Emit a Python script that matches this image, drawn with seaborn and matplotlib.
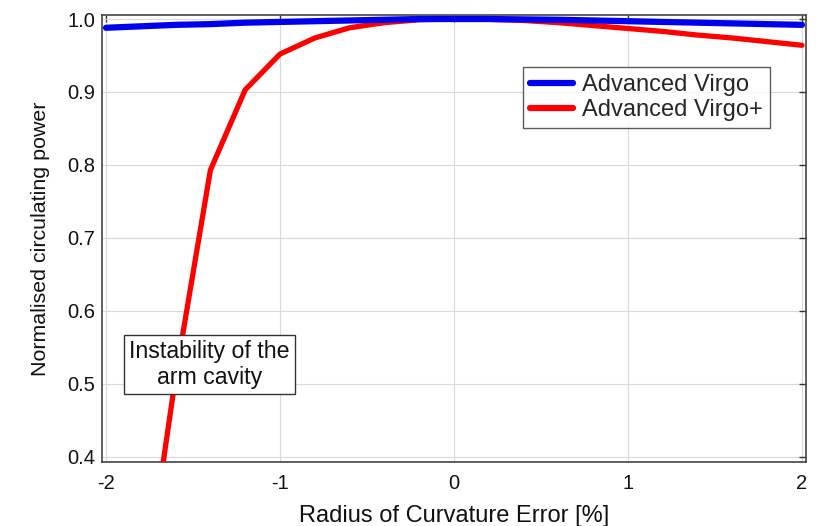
import numpy as np
import pandas as pd
import matplotlib
matplotlib.use("Agg")
import matplotlib.pyplot as plt
import seaborn as sns
from matplotlib.lines import Line2D

# Data
x_vals = [-2.0, -1.8, -1.6, -1.4, -1.2, -1.0, -0.8, -0.6, -0.4, -0.2, 0.0,
          0.2, 0.4, 0.6, 0.8, 1.0, 1.2, 1.4, 1.6, 1.8, 2.0]
adv_virgo = [0.988, 0.990, 0.992, 0.993, 0.995, 0.996, 0.997, 0.998, 0.999, 1.000, 1.000,
             1.000, 0.9995, 0.999, 0.998, 0.997, 0.996, 0.995, 0.994, 0.993, 0.992]
adv_virgo_plus = [-0.10, 0.18, 0.51, 0.793, 0.903, 0.952, 0.974, 0.988, 0.995, 0.999, 1.000,
                  0.9995, 0.998, 0.995, 0.991, 0.987, 0.983, 0.978, 0.974, 0.969, 0.964]
series_names = ["Advanced Virgo", "Advanced Virgo+"]
x_ticks = [-2, -1, 0, 1, 2]
y_ticks = [0.4, 0.5, 0.6, 0.7, 0.8, 0.9, 1.0]

df = pd.DataFrame({
    "x": x_vals * 2,
    "y": adv_virgo + adv_virgo_plus,
    "series": [series_names[0]] * len(x_vals) + [series_names[1]] * len(x_vals),
})

sns.set_style("white")
plt.rcParams["font.family"] = ["Liberation Sans", "DejaVu Sans"]

fig = plt.figure(figsize=(8.23, 5.26), dpi=100)
ax = fig.add_axes([102 / 823, 1 - 462 / 526, 704 / 823, 447 / 526])

sns.lineplot(data=df, x="x", y="y", hue="series",
             palette={series_names[0]: "#0000ee", series_names[1]: "#ff0000"},
             ax=ax, legend=False, sort=False)
ax.lines[0].set_linewidth(4.5)
ax.lines[1].set_linewidth(3.8)
ax.lines[0].set_zorder(5)
ax.lines[1].set_zorder(4)

ax.set_xlim(-2.023, 2.023)
ax.set_ylim(0.393, 1.0055)
ax.set_xticks(x_ticks)
ax.set_xticklabels([str(t) for t in x_ticks])
ax.set_yticks(y_ticks)
ax.set_yticklabels([f"{t:.1f}" for t in y_ticks])
ax.tick_params(axis="both", direction="in", length=5, width=1, labelsize=14.5,
               top=True, right=True, colors="#333333", labelcolor="#111111")
ax.tick_params(axis="x", pad=8.5)
ax.tick_params(axis="y", pad=5)
ax.grid(True, color="#d9d9d9", linewidth=0.8)
for s in ax.spines.values():
    s.set_color("#444444")
    s.set_linewidth(1.2)
    s.set_visible(True)

ax.set_xlabel("Radius of Curvature Error [%]", fontsize=17, color="#111111", labelpad=8.5)
ax.set_ylabel("Normalised circulating power", fontsize=15.4, color="#111111", labelpad=12)

handles = [Line2D([], [], color="#0000ee", lw=4.5), Line2D([], [], color="#ff0000", lw=4.5)]
leg = ax.legend(handles, series_names, loc="upper left",
                bbox_to_anchor=((523 - 102) / 704, (462 - 67) / 447),
                frameon=True, fancybox=False, fontsize=17, handlelength=1.8,
                borderpad=0.3, labelspacing=0.12, handletextpad=0.42, borderaxespad=0)
leg.get_frame().set_edgecolor("#333333")
leg.get_frame().set_linewidth(1.0)

ax.text(-1.406, 0.526, "Instability of the\narm cavity", ha="center", va="center",
        fontsize=16.7, color="#111111", linespacing=1.16, zorder=10,
        bbox=dict(boxstyle="square,pad=0.22", facecolor="white", edgecolor="#333333", linewidth=1.0))

fig.savefig("out.png", dpi=100)
